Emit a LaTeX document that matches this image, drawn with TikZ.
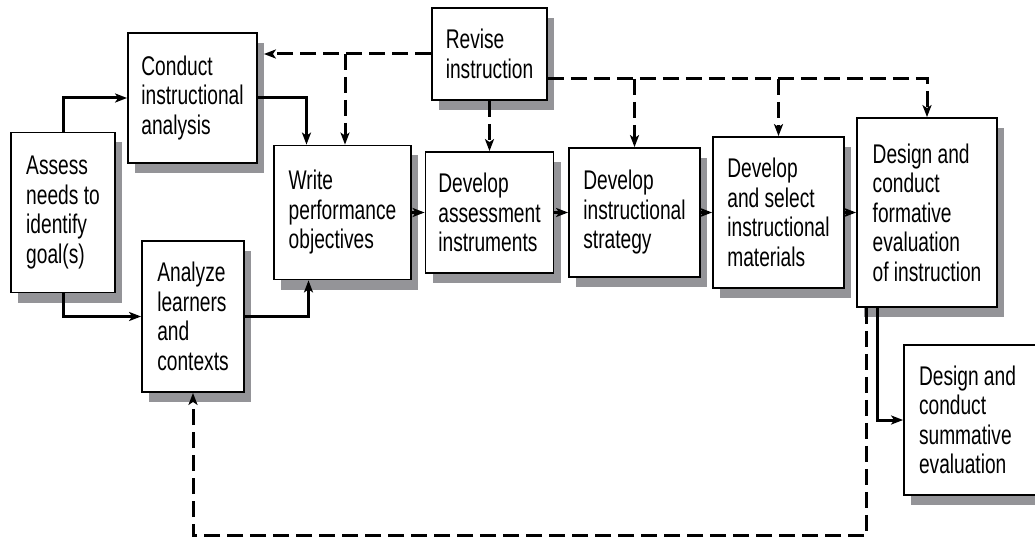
\documentclass[tikz,border=0pt]{standalone}
\usepackage{fontspec}
\setmainfont{Liberation Sans}[FakeStretch=0.71]
\usepackage{tikz}
\usetikzlibrary{arrows.meta, shadows}
\definecolor{shadowgray}{RGB}{148,148,152}

\begin{document}
\begin{tikzpicture}[
    x=1pt, y=1pt,
    ->,
    >={Stealth[length=12pt, width=9pt, inset=3pt]},
    line width=3pt,
    stage/.style={rectangle, draw, line width=1.8pt, fill=white, align=left, inner sep=0pt,
      font={\fontsize{27}{29.5}\selectfont},
      drop shadow={shadow xshift=7pt, shadow yshift=-10pt, fill=shadowgray, opacity=1}},
    fb/.style={dash pattern=on 16pt off 7pt},
  ]
  \useasboundingbox (0,0) rectangle (1035,-537);

  %% --- Stage boxes (left part) ---
  \node[stage, minimum width=104pt, minimum height=160pt] (assess) at (63,-212.5)
    {Assess\\needs to\\identify\\goal(s)};
  \node[stage, minimum width=129pt, minimum height=130pt] (conduct) at (192.5,-98)
    {Conduct\\instructional\\analysis};
  \node[stage, minimum width=102pt, minimum height=151pt] (analyze) at (193,-316.5)
    {Analyze\\learners\\and\\contexts};
  \node[stage, minimum width=137pt, minimum height=134pt] (write) at (342.5,-212.5)
    {Write\\performance\\objectives};
  % Top: revise box
  \node[stage, minimum width=115pt, minimum height=92pt] (revise) at (489.5,-54)
    {Revise\\instruction};

  %% --- Stage boxes (main row) ---
  \node[stage, minimum width=128pt, minimum height=121pt] (instruments) at (489.5,-212.5)
    {Develop\\assessment\\instruments};
  \node[stage, minimum width=131pt, minimum height=129pt] (strategy) at (634.5,-212.5)
    {Develop\\instructional\\strategy};
  \node[stage, minimum width=131pt, minimum height=151pt] (materials) at (778.5,-212.5)
    {Develop\\and select\\instructional\\materials};
  \node[stage, minimum width=140pt, minimum height=189pt] (formative) at (927,-212.5)
    {Design and\\conduct\\formative\\evaluation\\of instruction};
  % Below: summative box
  \node[stage, minimum width=140pt, minimum height=150pt, text width=110pt, align=flush left]
    (summative) at (974,-420)
    {Design and\\conduct\\summative\\evaluation};

  %% --- Solid flow ---
  \draw (assess) |- (conduct);
  \draw (assess) |- (analyze);
  \draw (conduct) -| ([xshift=-36pt]write.north);
  \draw (analyze) -| ([xshift=-34pt]write.south);
  \draw (write) -- (instruments);
  \draw (instruments) -- (strategy);
  \draw (strategy) -- (materials);
  \draw (materials) -- (formative);
  \draw ([xshift=21pt]formative.south west) |- (summative);

  %% --- Dashed revision lines ---
  \coordinate (rl) at ([yshift=-25pt]revise.east);
  \draw[fb] (revise.west) -- ([xshift=6pt]conduct.east |- revise.west);
  \draw[fb] ([xshift=2.5pt]revise.west -| write.north) -- ([xshift=2.5pt]write.north);
  \draw[fb] (revise) -- (instruments);
  \draw[fb] (rl) -| (formative.north);
  \draw[fb] (rl -| strategy.north) -- (strategy.north);
  \draw[fb] (rl -| materials.north) -- (materials.north);

  % Feedback from formative evaluation back to the learners
  \draw[fb] ([xshift=10pt]formative.south west) -- ++(0,-228) -| (analyze.south);
\end{tikzpicture}
\end{document}
